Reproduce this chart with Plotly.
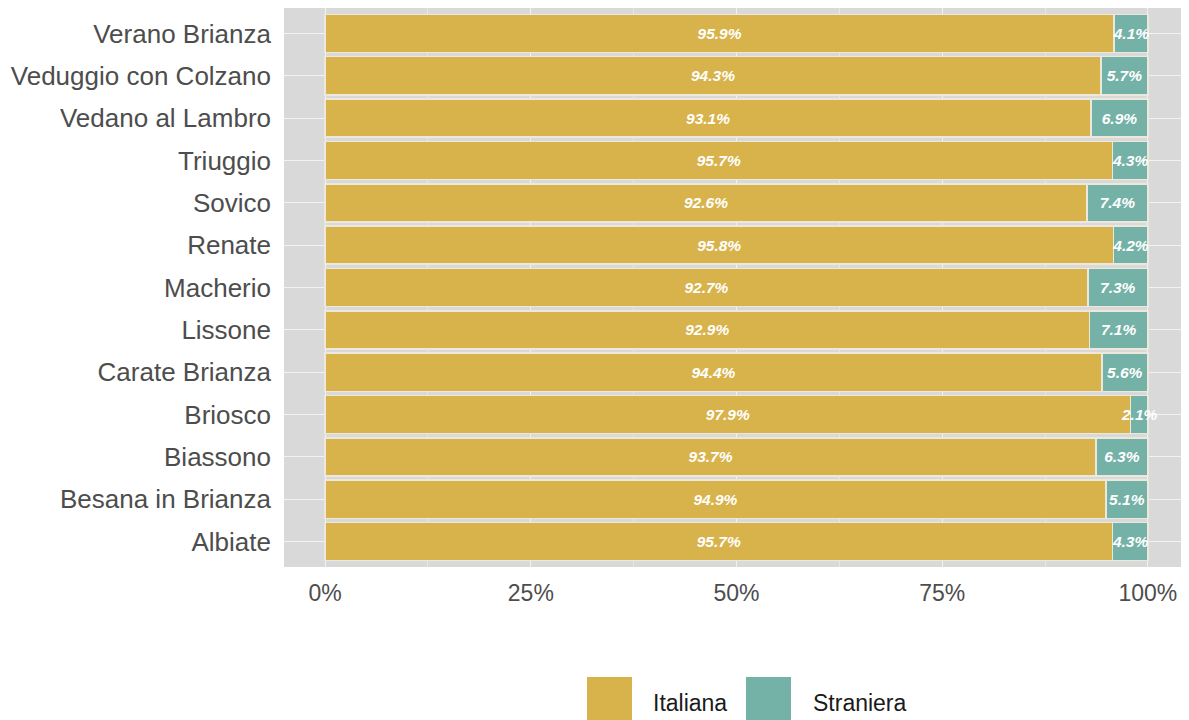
import plotly.graph_objects as go

comuni = ["Albiate", "Besana in Brianza", "Biassono", "Briosco", "Carate Brianza",
          "Lissone", "Macherio", "Renate", "Sovico", "Triuggio",
          "Vedano al Lambro", "Veduggio con Colzano", "Verano Brianza"]
italiana = [95.7, 94.9, 93.7, 97.9, 94.4, 92.9, 92.7, 95.8, 92.6, 95.7, 93.1, 94.3, 95.9]
straniera = [4.3, 5.1, 6.3, 2.1, 5.6, 7.1, 7.3, 4.2, 7.4, 4.3, 6.9, 5.7, 4.1]
series_names = ["Italiana", "Straniera"]
colors = ["#d8b34b", "#74b1a6"]
x_ticks = [0, 25, 50, 75, 100]
x_ticklabels = ["0%", "25%", "50%", "75%", "100%"]

FONT = "Liberation Sans, Arial, sans-serif"
OFF = 8  # browser default body margin
W, H = 1189 - OFF, 720 - OFF
L, R, T, B = 284 - OFF, 0, 0, 153
PW, PH = W - L - R, H - T - B


def px(x):  # screen x -> paper
    return (x - OFF - L) / PW


def py(y):  # screen y -> paper
    return (H - B - (y - OFF)) / PH


fig = go.Figure()
for name, vals, col in zip(series_names, [italiana, straniera], colors):
    fig.add_trace(go.Bar(
        y=comuni, x=vals, orientation="h", name=name,
        marker=dict(color=col, line=dict(color="#ece9dc", width=1.5)),
        width=0.9,
        text=[f"{v:.1f}%" for v in vals],
        textposition="inside", insidetextanchor="middle", textangle=0,
        textfont=dict(family=FONT, size=15.5, color="white", style="italic", weight="bold"),
        cliponaxis=False,
        showlegend=False,
    ))

fig.update_layout(
    barmode="stack",
    width=W, height=H,
    margin=dict(l=L, r=R, t=T, b=B, autoexpand=False),
    plot_bgcolor="#d9d9d9",
    paper_bgcolor="white",
    font=dict(family=FONT),
    uniformtext=dict(minsize=15.5, mode="show"),
    bargap=0.1,
)
fig.update_xaxes(
    range=[-5, 105], tickvals=x_ticks, ticktext=x_ticklabels,
    showgrid=True, gridcolor="#f2f2f2", gridwidth=1.2,
    minor=dict(tickvals=[12.5, 37.5, 62.5, 87.5], showgrid=True, gridcolor="#e6e6e6", gridwidth=0.6),
    tickfont=dict(size=23, color="#4d4d4d", family=FONT),
    ticks="", ticklabelstandoff=10, zeroline=False, automargin=False,
)
fig.update_yaxes(
    range=[-0.6, 12.6], categoryorder="array", categoryarray=comuni,
    tickfont=dict(size=26, color="#4d4d4d", family=FONT),
    ticks="", ticklabelstandoff=12, showgrid=True, gridcolor="#f2f2f2", automargin=False,
)

# custom legend
leg = [(587, 632, 651, series_names[0], colors[0]), (746, 791, 811, series_names[1], colors[1])]
for x0, x1, xt, name, col in leg:
    fig.add_shape(type="rect", xref="paper", yref="paper",
                  x0=px(x0), x1=px(x1), y0=py(722), y1=py(677),
                  fillcolor=col, line=dict(width=0))
    fig.add_annotation(xref="paper", yref="paper", x=px(xt), y=py(703),
                       text=name, showarrow=False, xanchor="left", yanchor="middle",
                       font=dict(size=23, color="#1a1a1a", family=FONT))

fig.write_html("out.html")
